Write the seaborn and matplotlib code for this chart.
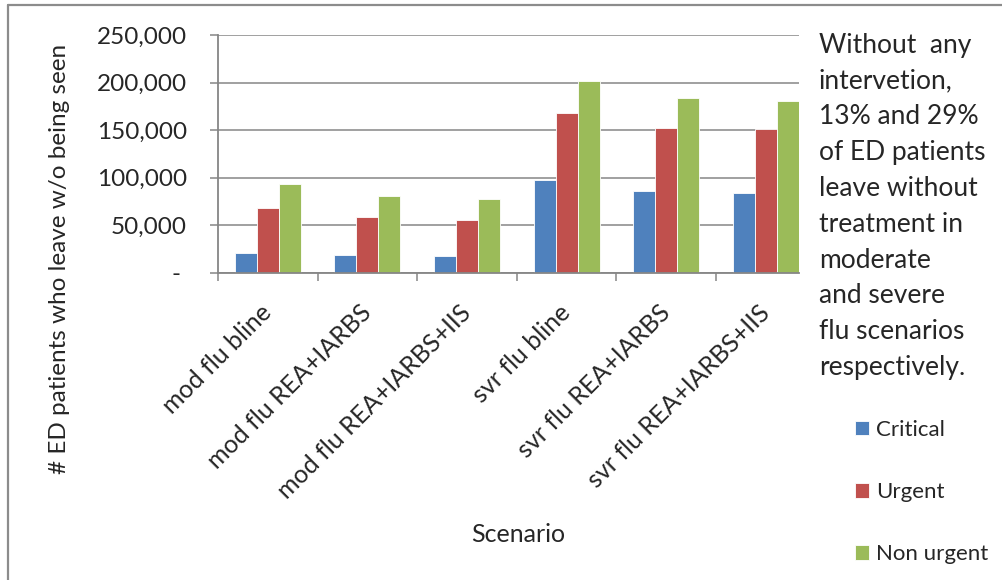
import numpy as np
import pandas as pd
import matplotlib
matplotlib.use("Agg")
import matplotlib.pyplot as plt
from matplotlib.lines import Line2D
from matplotlib.ticker import FuncFormatter, FixedLocator
import seaborn as sns

scenarios = ["mod flu bline", "mod flu REA+IARBS", "mod flu REA+IARBS+IIS",
             "svr flu bline", "svr flu REA+IARBS", "svr flu REA+IARBS+IIS"]
critical = [20400, 18300, 17200, 97800, 85600, 83800]
urgent = [67700, 58300, 55100, 167600, 152500, 151100]
non_urgent = [93000, 80300, 77500, 201900, 184000, 180600]
series_names = ["Critical", "Urgent", "Non urgent"]
colors = ["#4F81BD", "#C0504D", "#9BBB59"]
note_lines = ["Without  any", "intervetion,", "13% and 29%", "of ED patients",
              "leave without", "treatment in", "moderate", "and severe",
              "flu scenarios", "respectively."]

df = pd.DataFrame({
    "Scenario": scenarios * 3,
    "Type": sum([[s] * len(scenarios) for s in series_names], []),
    "value": critical + urgent + non_urgent,
})

sns.set_style("white")
plt.rcParams["font.family"] = ["Lato", "DejaVu Sans"]
FS = 17.5
FS_X = 18
FS_LEG = 16
FS_NOTE = 19
GRAY = "#868686"

fig = plt.figure(figsize=(10.03, 5.8), dpi=100)
ax = fig.add_axes([218 / 1003, 1 - 272.7 / 580, 581 / 1003, 237.7 / 580])

sns.barplot(data=df, x="Scenario", y="value", hue="Type", order=scenarios,
            hue_order=series_names, palette=colors, width=0.663, gap=0,
            dodge=True, ax=ax, saturation=1, edgecolor="white", linewidth=0.6)

ax.set_xlim(-0.5, 5.333)
ax.set_ylim(0, 250000)
ax.set_yticks(np.arange(0, 250001, 50000))
ax.yaxis.set_major_formatter(FuncFormatter(lambda v, p: "- " if v == 0 else f"{int(v):,}"))
ax.grid(axis="y", color=GRAY, linewidth=1.1)
ax.set_axisbelow(True)

for s in ["top", "right"]:
    ax.spines[s].set_visible(False)
for s in ["left", "bottom"]:
    ax.spines[s].set_color(GRAY)
    ax.spines[s].set_linewidth(1.3)

ax.tick_params(axis="y", which="major", length=5.8, width=1.1, color=GRAY,
               labelsize=FS, pad=16.5, left=True)
ax.set_xticks(range(len(scenarios)))
ax.set_xticklabels(scenarios, rotation=45, ha="right", va="center",
                   rotation_mode="anchor", fontsize=FS_X)
ax.tick_params(axis="x", which="major", length=0, pad=26)
ax.xaxis.set_minor_locator(FixedLocator(np.arange(-0.5, 5.0, 1.0)))
ax.tick_params(axis="x", which="minor", length=5.8, width=1.1, color=GRAY, bottom=True)

ax.set_xlabel("Scenario", fontsize=FS_X, va="center")
ax.xaxis.set_label_coords(0.516, -1.103)
ax.set_ylabel("# ED patients who leave w/o being seen", fontsize=FS, va="center")
ax.yaxis.set_label_coords(-0.272, 0.058)

ax.legend(loc="upper left", bbox_to_anchor=(855 / 1003, 1 - 420 / 580),
          bbox_transform=fig.transFigure, frameon=False, fontsize=FS_LEG,
          handlelength=0.63, handleheight=0.63, handletextpad=0.3,
          labelspacing=1.9, borderpad=0, borderaxespad=0)

for i, line in enumerate(note_lines):
    fig.text(819 / 1003, 1 - (52.7 + 35.8 * i) / 580, line, fontsize=FS_NOTE,
             va="baseline", ha="left")

fig.add_artist(Line2D([8 / 1003, 1], [1 - 5 / 580, 1 - 5 / 580], color="#8c8c8c",
                      linewidth=1.6, transform=fig.transFigure))
fig.add_artist(Line2D([8 / 1003, 8 / 1003], [0, 1 - 5 / 580], color="#8c8c8c",
                      linewidth=1.6, transform=fig.transFigure))

fig.savefig("out.png", dpi=100)
